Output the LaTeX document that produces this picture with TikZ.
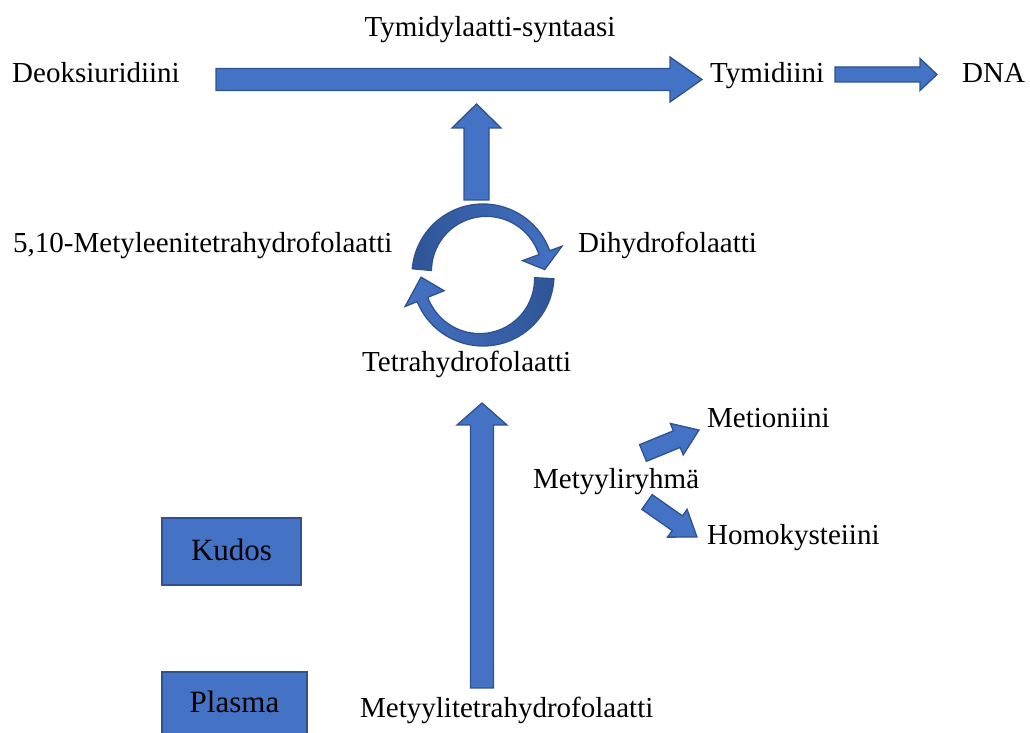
\documentclass[tikz,border=0pt]{standalone}
\usepackage{fontspec}
\setmainfont{Liberation Serif}
\usetikzlibrary{calc}
\definecolor{fillblue}{HTML}{4472C4}
\definecolor{edgeblue}{HTML}{2F528F}
\definecolor{darkblue}{HTML}{2F5597}
\tikzset{
  barrow/.style={fill=fillblue, draw=edgeblue, line width=1.3pt, line join=miter},
  cycedge/.style={draw=edgeblue, line width=1.3pt, line join=miter},
  lbl/.style={inner sep=0pt, font=\fontsize{29}{34}\selectfont, text=black},
  boxlbl/.style={fill=fillblue, draw=edgeblue, line width=1.3pt, minimum width=139pt, minimum height=67pt, font=\fontsize{31}{36}\selectfont}
}
\newcommand\blockarrow[6]{%
  \begin{scope}[shift={(#1)},rotate=#2]
    \draw[barrow] (0,-#4) -- ({#3-#6},-#4) -- ({#3-#6},-#5) -- (#3,0) -- ({#3-#6},#5) -- ({#3-#6},#4) -- (0,#4) -- cycle;
  \end{scope}}
\newcommand\upperarc{(175:71) arc[start angle=175, end angle=20, radius=71] -- (20:84) -- (5:62) -- (20:42) -- (20:{55+5*cos(-25)}) -- plot[domain=20:175, samples=40, variable=\t] ({\t}:{55+5*cos(\t-45)}) -- cycle}
\newcommand\lowerarc{(-3:71) arc[start angle=-3, end angle=-158, radius=71] -- (-158:84) -- (-178:62) -- (-158:42) -- (-158:{55+5*cos(-23)}) -- plot[domain=-158:-3, samples=40, variable=\t] ({\t}:{55+5*cos(\t+135)}) -- cycle}
\begin{document}
\begin{tikzpicture}[x=1pt,y=1pt]
\useasboundingbox (0,0) rectangle (1030,733);
\clip (0,0) rectangle (1030,733);
% text labels
\node[lbl, anchor=base] (tys) at (490,696) {Tymidylaatti-syntaasi};
\node[lbl, anchor=base west] (deo) at (12,650) {Deoksiuridiini};
\node[lbl, anchor=base west] (tym) at (710,650) {Tymidiini};
\node[lbl, anchor=base west] (dna) at (962,650) {DNA};
\node[lbl, anchor=base west] (mthf) at (13,480) {5,10-Metyleenitetrahydrofolaatti};
\node[lbl, anchor=base west] (dhf) at (578,480) {Dihydrofolaatti};
\node[lbl, anchor=base west] (thf) at (362,361) {Tetrahydrofolaatti};
\node[lbl, anchor=base west] (met) at (707,305) {Metioniini};
\node[lbl, anchor=base west] (mry) at (533,244) {Metyyliryhmä};
\node[lbl, anchor=base west] (hcy) at (707,188) {Homokysteiini};
\node[lbl, anchor=base west] (mtf) at (360,16) {Metyylitetrahydrofolaatti};
% boxes
\node[boxlbl] (kudos) at (231.5,181.5) {};
\node[lbl, font=\fontsize{31}{36}\selectfont, anchor=base] at (231.5,172) {Kudos};
\draw[barrow] (162,-12) rectangle (307,61);
\node[lbl, font=\fontsize{31}{36}\selectfont, anchor=base] (plasma) at (234.5,20) {Plasma};
% block arrows
\blockarrow{216,653.5}{0}{486}{11}{22.5}{32}
\blockarrow{835,658.5}{0}{102}{7.5}{16}{17}
\blockarrow{476.5,533}{90}{96}{12.5}{24.5}{24}
\blockarrow{482,45}{90}{285}{11.5}{25}{22}
\blockarrow{643,280}{22.3}{60.5}{9}{17}{24}
\blockarrow{647,231}{-35}{61}{9}{17}{24}
% cycle arrows
\begin{scope}[shift={(483,458)}]
  \shade[left color=darkblue, right color=fillblue] \upperarc;
  \draw[cycedge] \upperarc;
  \shade[right color=darkblue, left color=fillblue] \lowerarc;
  \draw[cycedge] \lowerarc;
\end{scope}
\end{tikzpicture}
\end{document}
